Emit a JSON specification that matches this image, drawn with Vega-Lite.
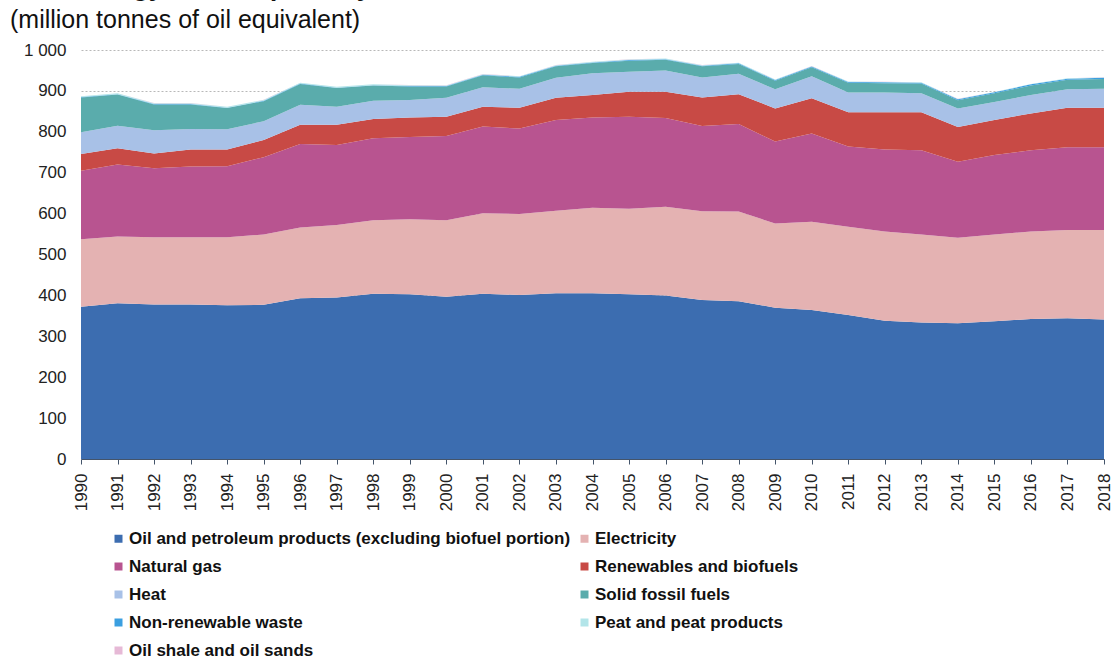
{
  "$schema": "https://vega.github.io/schema/vega-lite/v6.json",
  "width": 1023,
  "height": 409,
  "autosize": {"type": "none"},
  "padding": {"left": 81, "top": 50, "right": 8, "bottom": 200},
  "background": "white",
  "title": {
    "text": "Final energy consumption by fuel, EU-28, 1990-2018",
    "subtitle": "(million tonnes of oil equivalent)",
    "anchor": "start",
    "frame": "group",
    "dx": -71,
    "offset": 8,
    "font": "Liberation Sans",
    "fontSize": 26,
    "fontWeight": "bold",
    "color": "#111111",
    "subtitleFont": "Liberation Sans",
    "subtitleFontSize": 25,
    "subtitleColor": "#111111",
    "subtitlePadding": 7
  },
  "data": {
    "values": [
      {"year": 1990, "Oil and petroleum products (excluding biofuel portion)": 372, "Electricity": 165, "Natural gas": 168, "Renewables and biofuels": 41, "Heat": 53, "Solid fossil fuels": 85, "Non-renewable waste": 1, "Peat and peat products": 2, "Oil shale and oil sands": 0.2},
      {"year": 1991, "Oil and petroleum products (excluding biofuel portion)": 381, "Electricity": 163, "Natural gas": 176, "Renewables and biofuels": 40, "Heat": 55, "Solid fossil fuels": 76, "Non-renewable waste": 1, "Peat and peat products": 2, "Oil shale and oil sands": 0.2},
      {"year": 1992, "Oil and petroleum products (excluding biofuel portion)": 378, "Electricity": 164, "Natural gas": 169, "Renewables and biofuels": 36, "Heat": 57, "Solid fossil fuels": 63, "Non-renewable waste": 1, "Peat and peat products": 2, "Oil shale and oil sands": 0.2},
      {"year": 1993, "Oil and petroleum products (excluding biofuel portion)": 378, "Electricity": 164, "Natural gas": 173, "Renewables and biofuels": 42, "Heat": 50, "Solid fossil fuels": 60, "Non-renewable waste": 1, "Peat and peat products": 2, "Oil shale and oil sands": 0.2},
      {"year": 1994, "Oil and petroleum products (excluding biofuel portion)": 376, "Electricity": 166, "Natural gas": 174, "Renewables and biofuels": 41, "Heat": 49, "Solid fossil fuels": 52, "Non-renewable waste": 1, "Peat and peat products": 2, "Oil shale and oil sands": 0.2},
      {"year": 1995, "Oil and petroleum products (excluding biofuel portion)": 377, "Electricity": 172, "Natural gas": 189, "Renewables and biofuels": 42, "Heat": 46, "Solid fossil fuels": 49, "Non-renewable waste": 1, "Peat and peat products": 2, "Oil shale and oil sands": 0.2},
      {"year": 1996, "Oil and petroleum products (excluding biofuel portion)": 393, "Electricity": 173, "Natural gas": 204, "Renewables and biofuels": 47, "Heat": 49, "Solid fossil fuels": 51, "Non-renewable waste": 1, "Peat and peat products": 2, "Oil shale and oil sands": 0.2},
      {"year": 1997, "Oil and petroleum products (excluding biofuel portion)": 395, "Electricity": 177, "Natural gas": 196, "Renewables and biofuels": 49, "Heat": 44, "Solid fossil fuels": 46, "Non-renewable waste": 1, "Peat and peat products": 2, "Oil shale and oil sands": 0.2},
      {"year": 1998, "Oil and petroleum products (excluding biofuel portion)": 404, "Electricity": 180, "Natural gas": 200, "Renewables and biofuels": 47, "Heat": 45, "Solid fossil fuels": 37, "Non-renewable waste": 1, "Peat and peat products": 2, "Oil shale and oil sands": 0.2},
      {"year": 1999, "Oil and petroleum products (excluding biofuel portion)": 403, "Electricity": 183, "Natural gas": 201, "Renewables and biofuels": 48, "Heat": 43, "Solid fossil fuels": 33, "Non-renewable waste": 1, "Peat and peat products": 2, "Oil shale and oil sands": 0.2},
      {"year": 2000, "Oil and petroleum products (excluding biofuel portion)": 397, "Electricity": 187, "Natural gas": 206, "Renewables and biofuels": 47, "Heat": 46, "Solid fossil fuels": 28, "Non-renewable waste": 1, "Peat and peat products": 1.5, "Oil shale and oil sands": 0.1},
      {"year": 2001, "Oil and petroleum products (excluding biofuel portion)": 404, "Electricity": 197, "Natural gas": 212, "Renewables and biofuels": 48, "Heat": 48, "Solid fossil fuels": 29, "Non-renewable waste": 1.5, "Peat and peat products": 1.5, "Oil shale and oil sands": 0.1},
      {"year": 2002, "Oil and petroleum products (excluding biofuel portion)": 401, "Electricity": 198, "Natural gas": 209, "Renewables and biofuels": 51, "Heat": 46, "Solid fossil fuels": 28, "Non-renewable waste": 1.5, "Peat and peat products": 1.5, "Oil shale and oil sands": 0.1},
      {"year": 2003, "Oil and petroleum products (excluding biofuel portion)": 405, "Electricity": 202, "Natural gas": 222, "Renewables and biofuels": 54, "Heat": 49, "Solid fossil fuels": 28, "Non-renewable waste": 1.5, "Peat and peat products": 1.5, "Oil shale and oil sands": 0.1},
      {"year": 2004, "Oil and petroleum products (excluding biofuel portion)": 405, "Electricity": 209, "Natural gas": 221, "Renewables and biofuels": 55, "Heat": 53, "Solid fossil fuels": 25, "Non-renewable waste": 1.5, "Peat and peat products": 1.5, "Oil shale and oil sands": 0.1},
      {"year": 2005, "Oil and petroleum products (excluding biofuel portion)": 403, "Electricity": 209, "Natural gas": 225, "Renewables and biofuels": 61, "Heat": 49, "Solid fossil fuels": 27, "Non-renewable waste": 1.5, "Peat and peat products": 1.5, "Oil shale and oil sands": 0.1},
      {"year": 2006, "Oil and petroleum products (excluding biofuel portion)": 400, "Electricity": 217, "Natural gas": 217, "Renewables and biofuels": 64, "Heat": 52, "Solid fossil fuels": 26, "Non-renewable waste": 1.5, "Peat and peat products": 1.5, "Oil shale and oil sands": 0.1},
      {"year": 2007, "Oil and petroleum products (excluding biofuel portion)": 389, "Electricity": 217, "Natural gas": 208, "Renewables and biofuels": 70, "Heat": 49, "Solid fossil fuels": 27, "Non-renewable waste": 1.5, "Peat and peat products": 1.5, "Oil shale and oil sands": 0.1},
      {"year": 2008, "Oil and petroleum products (excluding biofuel portion)": 386, "Electricity": 219, "Natural gas": 214, "Renewables and biofuels": 73, "Heat": 50, "Solid fossil fuels": 24, "Non-renewable waste": 1.5, "Peat and peat products": 1.5, "Oil shale and oil sands": 0.1},
      {"year": 2009, "Oil and petroleum products (excluding biofuel portion)": 370, "Electricity": 206, "Natural gas": 200, "Renewables and biofuels": 81, "Heat": 47, "Solid fossil fuels": 21, "Non-renewable waste": 1.5, "Peat and peat products": 1.5, "Oil shale and oil sands": 0.1},
      {"year": 2010, "Oil and petroleum products (excluding biofuel portion)": 364, "Electricity": 216, "Natural gas": 216, "Renewables and biofuels": 86, "Heat": 54, "Solid fossil fuels": 22, "Non-renewable waste": 1.5, "Peat and peat products": 1, "Oil shale and oil sands": 0.1},
      {"year": 2011, "Oil and petroleum products (excluding biofuel portion)": 352, "Electricity": 216, "Natural gas": 196, "Renewables and biofuels": 84, "Heat": 48, "Solid fossil fuels": 24, "Non-renewable waste": 2, "Peat and peat products": 1, "Oil shale and oil sands": 0.1},
      {"year": 2012, "Oil and petroleum products (excluding biofuel portion)": 338, "Electricity": 218, "Natural gas": 201, "Renewables and biofuels": 91, "Heat": 48, "Solid fossil fuels": 23, "Non-renewable waste": 2, "Peat and peat products": 1, "Oil shale and oil sands": 0.1},
      {"year": 2013, "Oil and petroleum products (excluding biofuel portion)": 334, "Electricity": 215, "Natural gas": 206, "Renewables and biofuels": 93, "Heat": 46, "Solid fossil fuels": 24, "Non-renewable waste": 2, "Peat and peat products": 1, "Oil shale and oil sands": 0.1},
      {"year": 2014, "Oil and petroleum products (excluding biofuel portion)": 332, "Electricity": 209, "Natural gas": 186, "Renewables and biofuels": 85, "Heat": 45, "Solid fossil fuels": 20, "Non-renewable waste": 2.5, "Peat and peat products": 1, "Oil shale and oil sands": 0.1},
      {"year": 2015, "Oil and petroleum products (excluding biofuel portion)": 337, "Electricity": 212, "Natural gas": 194, "Renewables and biofuels": 86, "Heat": 44, "Solid fossil fuels": 21, "Non-renewable waste": 2.5, "Peat and peat products": 1, "Oil shale and oil sands": 0.1},
      {"year": 2016, "Oil and petroleum products (excluding biofuel portion)": 342, "Electricity": 214, "Natural gas": 199, "Renewables and biofuels": 90, "Heat": 45, "Solid fossil fuels": 23, "Non-renewable waste": 3, "Peat and peat products": 1, "Oil shale and oil sands": 0.1},
      {"year": 2017, "Oil and petroleum products (excluding biofuel portion)": 344, "Electricity": 216, "Natural gas": 202, "Renewables and biofuels": 97, "Heat": 45, "Solid fossil fuels": 23, "Non-renewable waste": 3, "Peat and peat products": 1, "Oil shale and oil sands": 0.1},
      {"year": 2018, "Oil and petroleum products (excluding biofuel portion)": 341, "Electricity": 219, "Natural gas": 202, "Renewables and biofuels": 97, "Heat": 46, "Solid fossil fuels": 24, "Non-renewable waste": 3, "Peat and peat products": 1, "Oil shale and oil sands": 0.1}
    ]
  },
  "transform": [
    {"fold": ["Oil and petroleum products (excluding biofuel portion)", "Electricity", "Natural gas", "Renewables and biofuels", "Heat", "Solid fossil fuels", "Non-renewable waste", "Peat and peat products", "Oil shale and oil sands"], "as": ["fuel", "value"]},
    {"calculate": "indexof(['Oil and petroleum products (excluding biofuel portion)', 'Electricity', 'Natural gas', 'Renewables and biofuels', 'Heat', 'Solid fossil fuels', 'Non-renewable waste', 'Peat and peat products', 'Oil shale and oil sands'], datum.fuel)", "as": "k"}
  ],
  "mark": {"type": "area", "interpolate": "linear"},
  "encoding": {
    "x": {
      "field": "year",
      "type": "quantitative",
      "scale": {"domain": [1990, 2018], "nice": false, "zero": false},
      "axis": {
        "values": [1990, 1991, 1992, 1993, 1994, 1995, 1996, 1997, 1998, 1999, 2000, 2001, 2002, 2003, 2004, 2005, 2006, 2007, 2008, 2009, 2010, 2011, 2012, 2013, 2014, 2015, 2016, 2017, 2018],
        "format": "d",
        "labelAngle": -90,
        "title": null,
        "grid": false,
        "domainColor": "#44546a",
        "domainWidth": 1,
        "tickColor": "#44546a",
        "tickSize": 5,
        "labelFont": "Liberation Sans",
        "labelFontSize": 17,
        "labelColor": "#222222",
        "labelPadding": 9,
        "labelOverlap": false,
        "labelFlush": false
      }
    },
    "y": {
      "field": "value",
      "type": "quantitative",
      "stack": "zero",
      "scale": {"domain": [0, 1000], "nice": false},
      "axis": {
        "values": [0, 100, 200, 300, 400, 500, 600, 700, 800, 900, 1000],
        "labelExpr": "replace(format(datum.value, ','), ',', ' ')",
        "title": null,
        "domain": false,
        "ticks": false,
        "grid": true,
        "gridColor": "#b8b8b8",
        "gridDash": [2, 2],
        "gridWidth": 1,
        "labelFont": "Liberation Sans",
        "labelFontSize": 17,
        "labelColor": "#222222",
        "labelPadding": 15
      }
    },
    "order": {"field": "k", "type": "quantitative", "sort": "ascending"},
    "color": {
      "field": "fuel",
      "type": "nominal",
      "scale": {
        "domain": ["Oil and petroleum products (excluding biofuel portion)", "Electricity", "Natural gas", "Renewables and biofuels", "Heat", "Solid fossil fuels", "Non-renewable waste", "Peat and peat products", "Oil shale and oil sands"],
        "range": ["#3c6db0", "#e4b2b2", "#b85490", "#c84a45", "#a8c1e7", "#5aacac", "#3b9fe0", "#b3e5e9", "#e6b9d6"]
      },
      "legend": {
        "orient": "none",
        "direction": "horizontal",
        "legendX": 29,
        "legendY": 480,
        "title": null,
        "columns": 2,
        "columnPadding": 5,
        "rowPadding": 10,
        "symbolType": "square",
        "symbolSize": 64,
        "symbolStrokeWidth": 0,
        "labelFont": "Liberation Sans",
        "labelFontWeight": "bold",
        "labelFontSize": 17,
        "labelColor": "#111111",
        "labelOffset": 2,
        "labelLimit": 600
      }
    }
  },
  "config": {
    "view": {"stroke": null},
    "font": "Liberation Sans"
  }
}
